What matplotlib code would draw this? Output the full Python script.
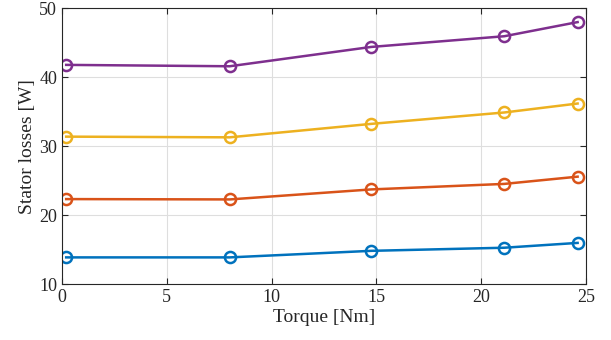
import matplotlib
matplotlib.use("Agg")
import matplotlib.pyplot as plt

torque = [0.2, 8.0, 14.75, 21.1, 24.6]
s1 = [13.9, 13.9, 14.85, 15.3, 16.0]
s2 = [22.35, 22.3, 23.75, 24.55, 25.6]
s3 = [31.4, 31.3, 33.25, 34.9, 36.2]
s4 = [41.8, 41.6, 44.4, 45.95, 48.0]
series = [s1, s2, s3, s4]
colors = ["#0072BD", "#D95319", "#EDB120", "#7E2F8E"]
xticks = [0, 5, 10, 15, 20, 25]
yticks = [10, 20, 30, 40, 50]

plt.rcParams['font.family'] = ['Liberation Serif', 'DejaVu Serif']
fig = plt.figure(figsize=(6.11, 3.40), dpi=100)
ax = fig.add_axes([62/611, 1-284.3/340, (586-62)/611, (284.3-8.3)/340])
for s, c in zip(series, colors):
    ax.plot(torque, s, color=c, lw=1.8, marker='o', ms=8, mfc='none', mew=1.8)
ax.set_xlim(0, 25)
ax.set_ylim(10, 50)
ax.set_xticks(xticks)
ax.set_yticks(yticks)
ax.grid(True, color='#dedede', lw=0.8)
ax.set_axisbelow(True)
ax.tick_params(direction='in', length=4, labelsize=13, colors='#262626', top=True, right=True)
for sp in ax.spines.values():
    sp.set_color('#262626')
    sp.set_linewidth(0.8)
ax.set_xlabel('Torque [Nm]', fontsize=14, color='#262626', labelpad=2)
ax.set_ylabel('Stator losses [W]', fontsize=14, color='#262626', labelpad=2)
fig.savefig('out.png', dpi=100)
